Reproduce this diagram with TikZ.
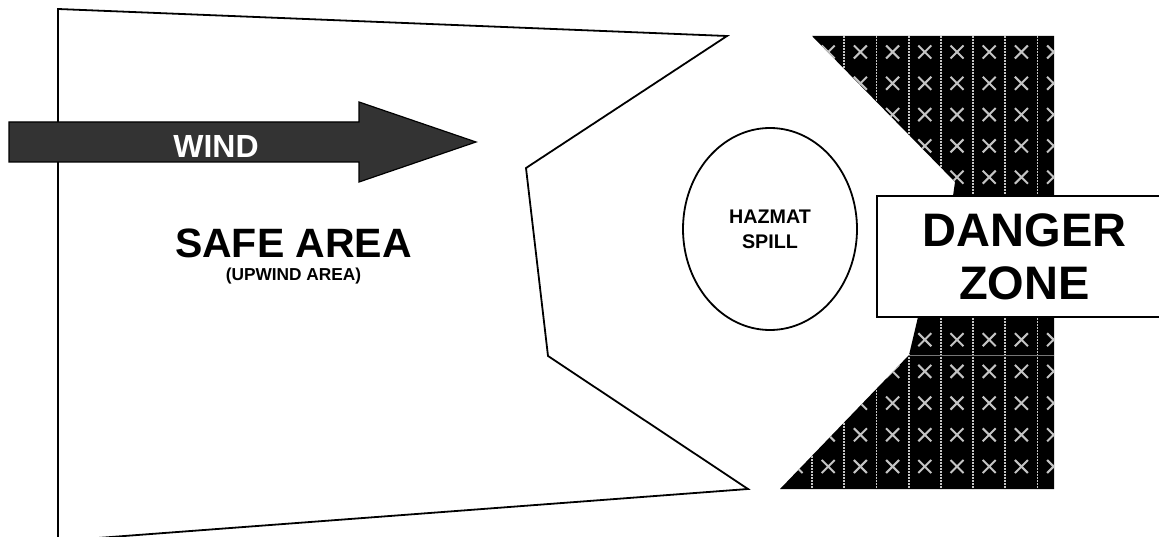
\documentclass[tikz,border=0pt]{standalone}
\usepackage{fontspec}
\setmainfont{Liberation Sans}
\usepackage{tikz}
\usetikzlibrary{shapes.geometric}
\definecolor{windgray}{HTML}{333333}
\definecolor{hatchgray}{HTML}{C4C4C4}

\begin{document}
\begin{tikzpicture}[x=1pt, y=-1pt,
    zoneline/.style={line width=1.8pt, line join=miter},
    zonetext/.style={font=\bfseries, align=center, inner sep=0pt},
    spill/.style={draw, ellipse, line width=1.8pt, minimum width=174pt, minimum height=202pt},
    warnbox/.style={draw, line width=1.8pt, fill=white, minimum width=295pt, minimum height=121pt},
    hatchx/.style={hatchgray, line width=2pt},
    hatchline/.style={hatchgray, line width=1.8pt, dash pattern=on 2pt off 1pt}]
  \useasboundingbox (0,0) rectangle (1159,537);
  \clip (0,0) rectangle (1159,537);

  \draw[zoneline] (58,9) -- (727,36) -- (526,168) -- (548,356) -- (748,489) -- (58,541) -- cycle;

  \draw[fill=windgray, line width=1.2pt, line join=miter]
    (9,122) -- (359,122) -- (359,102) -- (476,142) -- (359,182) -- (359,162) -- (9,162) -- cycle;
  \node[zonetext, text=white, font=\bfseries\fontsize{32}{38}\selectfont] (wind) at (216,146) {WIND};

  \node[zonetext, anchor=base, font=\bfseries\fontsize{41}{48}\selectfont] (safe) at (293.5,258) {SAFE AREA};
  \node[zonetext, anchor=base, font=\bfseries\fontsize{17.3}{20}\selectfont] (upwind) at (293.5,281) {(UPWIND AREA)};

  \fill[black] (812,36) -- (1054,36) -- (1054,489) -- (780,489) -- (909,355) -- (918,317) -- (953,196) -- (955,182) -- cycle;
  \begin{scope}
    \clip (812,36) -- (1054,36) -- (1054,489) -- (780,489) -- (909,355) -- (918,317) -- (953,196) -- (955,182) -- cycle;
    \foreach \c in {0,...,7}
      \draw[hatchline] ({812+32.2*\c},36) -- ({812+32.2*\c},489);
    \foreach \i in {0,...,8} {
      \foreach \j in {0,...,5} {
        \draw[hatchx] ({796+32.2*\i-6.5},{52+31.3*\j-6.5}) -- ++(13,13)
                      ({796+32.2*\i-6.5},{52+31.3*\j+6.5}) -- ++(13,-13);
        \draw[hatchx] ({796+32.2*\i-6.5},{308+31.7*\j-6.5}) -- ++(13,13)
                      ({796+32.2*\i-6.5},{308+31.7*\j+6.5}) -- ++(13,-13);
      }
    }
    \draw[hatchgray!60!black, line width=1pt] (780,355) -- (1054,355);
  \end{scope}

  \node[spill, zonetext, font=\bfseries\fontsize{19.7}{25}\selectfont] (hazmat) at (770,229) {HAZMAT\\SPILL};
  \node[warnbox, zonetext, font=\bfseries\fontsize{47}{53}\selectfont] (danger) at (1024.5,256.5) {DANGER\\ZONE};
\end{tikzpicture}
\end{document}
